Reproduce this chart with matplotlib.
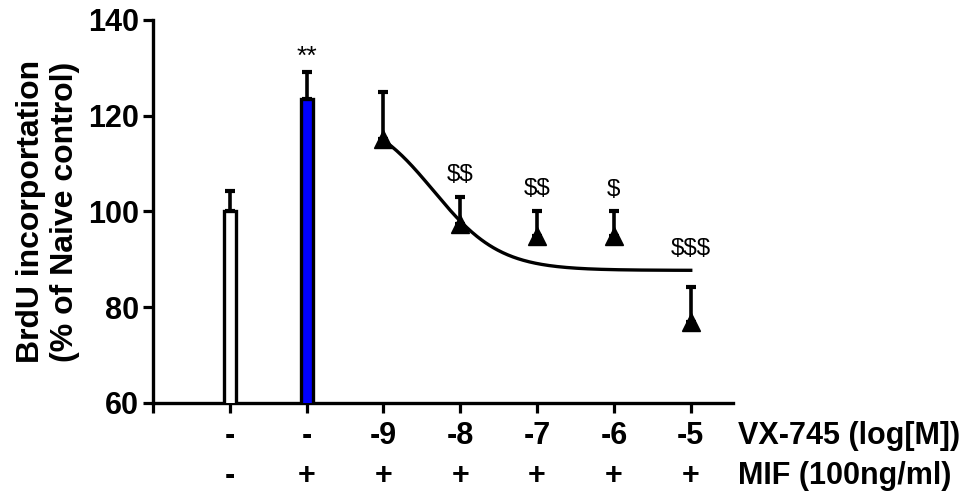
import numpy as np
import matplotlib
matplotlib.use("Agg")
import matplotlib.pyplot as plt
from matplotlib.transforms import blended_transform_factory

plt.rcParams['font.family'] = ['Liberation Sans', 'DejaVu Sans']
plt.rcParams['text.parse_math'] = False

# Control bars: naive control and MIF alone
bar_pos = [0, 1]
bar_mean = [100.0, 123.5]
bar_sem = [4.2, 5.6]
bar_colors = ['white', '#0000FF']
bar_marks = ['', '**']

# VX-745 dose response (log[M]) in presence of MIF
dose_pos = [2, 3, 4, 5, 6]
dose_log = [-9, -8, -7, -6, -5]
dose_mean = [115.2, 97.3, 94.8, 94.8, 77.0]
dose_sem = [9.8, 5.8, 5.4, 5.2, 7.2]
dose_marks = ['', '$$', '$$', '$', '$$$']

# Sigmoidal fit parameters
fit_bottom = 87.7
fit_top = 121.0
fit_logec50 = -8.35
fit_hill = 1.0

# Treatment rows under the axis
vx_labels = ['-', '-', '-9', '-8', '-7', '-6', '-5']
mif_labels = ['-', '+', '+', '+', '+', '+', '+']
row_titles = ['VX-745 (log[M])', 'MIF (100ng/ml)']


def fit_curve(logx):
    return fit_bottom + (fit_top - fit_bottom) / (1 + 10 ** ((logx - fit_logec50) * fit_hill))


fig = plt.figure(figsize=(9.66, 4.95), dpi=100)
ax = fig.add_axes([0.1584, 0.1859, 0.6004, 0.7737])

ax.bar(bar_pos, bar_mean, width=0.155, color=bar_colors, edgecolor='black',
       linewidth=2.4, zorder=3)
ax.errorbar(bar_pos, bar_mean, yerr=[np.zeros(2), bar_sem], fmt='none',
            ecolor='black', elinewidth=2.6, capsize=3.8, capthick=3.0, zorder=2)

ax.errorbar(dose_pos, dose_mean, yerr=[np.zeros(5), dose_sem], fmt='^',
            color='black', markersize=13, elinewidth=2.6, capsize=3.8,
            capthick=3.0, zorder=4)

# fitted curve, mapped from log dose to category position
xd = np.linspace(dose_log[0], dose_log[-1], 300)
xp = np.interp(xd, dose_log, dose_pos)
ax.plot(xp, fit_curve(xd), color='black', linewidth=2.4, zorder=3)

# significance marks sit just above the error bar (or the fit line)
gap = 3.3
for x, y, e, m in zip(bar_pos, bar_mean, bar_sem, bar_marks):
    if m:
        ax.text(x, y + e + gap - 1.5, m, ha='center', va='baseline', fontsize=19)
for x, lx, y, e, m in zip(dose_pos, dose_log, dose_mean, dose_sem, dose_marks):
    if m:
        top = max(y + e, fit_curve(lx))
        ax.text(x, top + gap, m, ha='center', va='baseline', fontsize=17.5)

ax.set_xlim(-1.0, 6.55)
ax.set_ylim(60, 140)
ax.set_yticks([60, 80, 100, 120, 140])
ax.set_xticks([-1] + list(range(7)))
ax.set_xticklabels([])
ax.tick_params(axis='both', direction='out', length=7, width=2.3,
               labelsize=22)
for lab in ax.get_yticklabels():
    lab.set_fontweight('bold')
ax.tick_params(axis='y', pad=3)

for s in ['top', 'right']:
    ax.spines[s].set_visible(False)
for s in ['left', 'bottom']:
    ax.spines[s].set_linewidth(2.4)

ax.set_ylabel('BrdU incorportation\n(% of Naive control)', fontsize=23,
              fontweight='bold', labelpad=6, linespacing=1.15)

tr = blended_transform_factory(ax.transData, ax.transAxes)
for i, (a, b) in enumerate(zip(vx_labels, mif_labels)):
    ax.text(i, -0.085, a, transform=tr, ha='center', va='center',
            fontsize=22, fontweight='bold')
    ax.text(i, -0.19, b, transform=tr, ha='center', va='center',
            fontsize=22, fontweight='bold')
ax.text(6.61, -0.085, row_titles[0], transform=tr, ha='left', va='center',
        fontsize=22, fontweight='bold')
ax.text(6.61, -0.19, row_titles[1], transform=tr, ha='left', va='center',
        fontsize=22, fontweight='bold')

fig.savefig('out.png', dpi=100)
